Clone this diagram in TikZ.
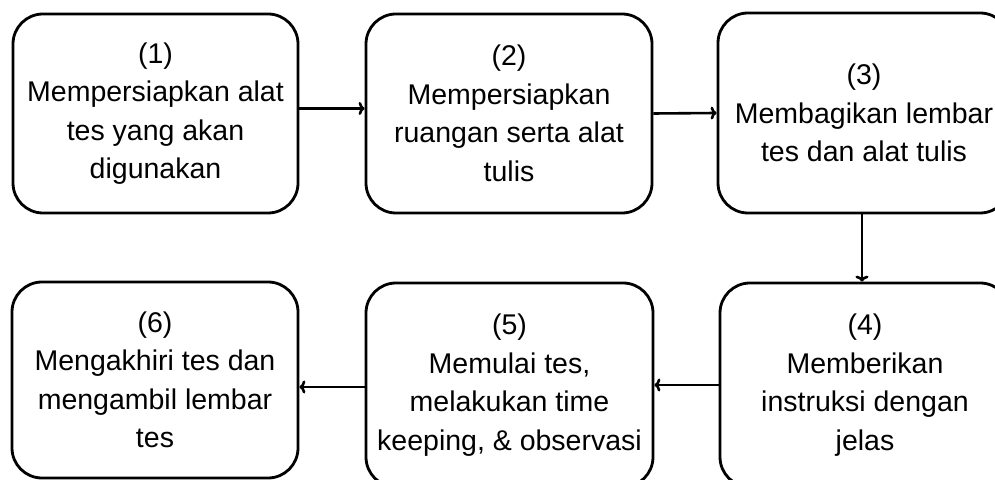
\documentclass[tikz,border=0pt]{standalone}
\usepackage{fontspec}
\setmainfont{Liberation Sans}
\usetikzlibrary{arrows.meta}
\begin{document}
\begin{tikzpicture}[x=1pt,y=1pt,
  stepbox/.style={draw=black, line width=2.8pt, rounded corners=30pt,
    minimum width=#1, align=center, inner sep=0pt,
    font={\fontsize{28.5}{38.5}\selectfont}},
  flow/.style={line width=2.6pt, -{To[length=6pt,width=13pt]}}]
\useasboundingbox (0,0) rectangle (995,479);
\clip (0,0) rectangle (995,479);
\fill[white] (0,0) rectangle (995,479);
% top row
\node[stepbox=285pt, minimum height=199pt] (b1) at (155.5,365.5)
  {(1)\\Mempersiapkan alat\\tes yang akan\\digunakan};
\node[stepbox=286pt, minimum height=199pt] (b2) at (509,365.5)
  {(2)\\Mempersiapkan\\ruangan serta alat\\tulis};
\node[stepbox=292pt, minimum height=200pt] (b3) at (864,366)
  {(3)\\Membagikan lembar\\tes dan alat tulis};
% bottom row
\node[stepbox=290pt, minimum height=204pt] (b4) at (865,94)
  {(4)\\Memberikan\\instruksi dengan\\jelas};
\node[stepbox=287pt, minimum height=204pt] (b5) at (509.5,94)
  {(5)\\Memulai tes,\\melakukan time\\keeping, \& observasi};
\node[stepbox=286pt, minimum height=196pt] (b6) at (155,99)
  {(6)\\Mengakhiri tes dan\\mengambil lembar\\tes};
% connectors
\draw[flow] ([yshift=5pt]b1.east) -- ([yshift=5pt]b2.west);
\draw[flow] (b2.east) -- (b3.west);
\draw[flow] ([xshift=-2pt]b3.south) -- ([xshift=-2pt]b3.south |- b4.north);
\draw[flow] (b4.west) -- (b4.west -| b5.east);
\draw[flow] ([yshift=-2pt]b5.west) -- ([yshift=-2pt]b5.west -| b6.east);
\end{tikzpicture}
\end{document}
